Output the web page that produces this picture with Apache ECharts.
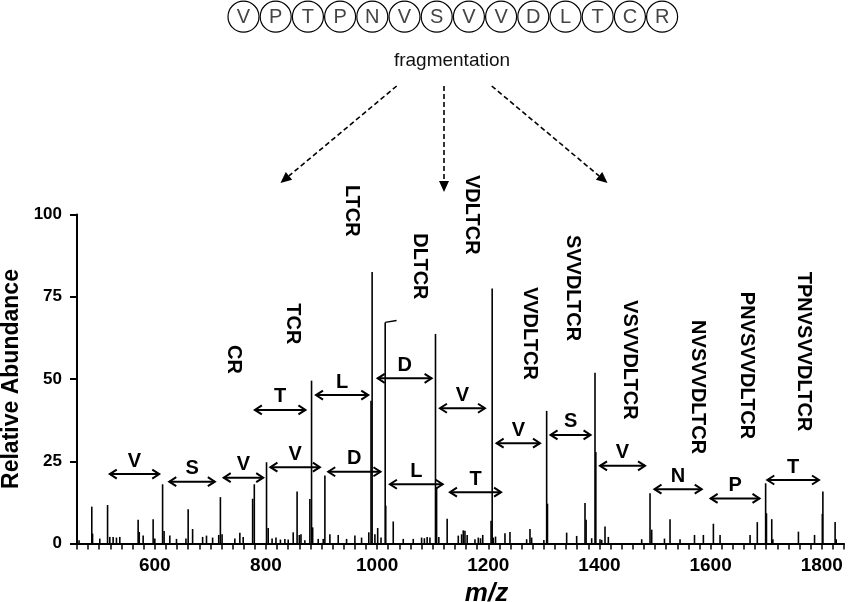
<!DOCTYPE html>
<html>
<head>
<meta charset="utf-8">
<script src="https://cdn.jsdelivr.net/npm/echarts@6/dist/echarts.min.js"></script>
<style>
html,body{margin:0;padding:0;background:#fff;}
#chart{width:860px;height:602px;}
</style>
</head>
<body>
<div id="chart"></div>
<script>
// ---------- data ----------
const peakMz = [463.7,486.6,488,501,515,519,525,531,537,570,572,579,597,600,614,616.7,627,639,656,660,668,686,693,704,715,718,721,744,753,759,776,779,801,804,811,818,826,834,840,849,856,860,863,870,879,882,884,894,903,906,915,930,945,960,972,985,989,991,996,1001,1007,1014.5,1015.5,1029,1047,1065,1080,1085,1090,1095,1105,1107,1111,1126,1146,1152,1155,1158,1162,1176,1182,1186,1190,1205,1207,1209,1213,1230,1239,1269,1275,1278,1300,1305,1306.5,1341,1359,1374,1376,1386,1392,1393.5,1401,1404,1410,1416,1476,1491,1494,1517,1527,1545,1571,1587,1605,1617,1671,1684,1699,1700.5,1710,1712,1758,1787,1801,1802,1824,1826];
const peakInt = [1,11.2,3,1.5,11.7,2,2,1.8,2,7.2,3.5,2.4,7.4,1.5,18,3.8,2.4,1.4,1.5,10.4,4.4,2,2.4,1.8,2.6,14.1,2.8,1.5,3.3,2,13.6,18,24.7,4.7,1.5,1.8,1.2,1.4,1.2,3.4,15.8,2.6,2.8,1,13.5,49.5,4.9,1.4,1.4,20.7,2.8,2.6,1.4,2.4,1.8,3.4,43.4,82.5,2.8,4.7,1.8,67.2,11.5,6.7,1.4,1.4,1.8,1.6,2,1.8,63.7,17,2,7.5,2.4,2.8,4,3.9,2.6,1.3,1.8,1.6,2.6,6.9,77.5,1.8,2.1,3.1,3.5,1.3,4.4,1.8,1.1,40.3,12.1,3.3,2.3,12.3,7.2,1.6,51.9,27.8,1.3,1.1,5.2,2,1.3,15.3,4.2,1.5,7.4,1.3,2.6,2.6,6,2.6,2.6,6.5,18.3,9.2,7.4,1.3,3.6,2.6,9,15.8,6.5,1.3];

// small hook drawn at the top of the DLTCR peak
const hookMz = [1014.5, 1035];
const hookInt = [67.2, 67.8];

// fragment (y-ion) labels: m/z and intensity of the top of the rotated text
const fragLabels = ['CR','TCR','LTCR','DLTCR','VDLTCR','VVDLTCR','SVVDLTCR','VSVVDLTCR','NVSVVDLTCR','PNVSVVDLTCR','TPNVSVVDLTCR'];
const fragMz = [741, 847.5, 954, 1077, 1170, 1275, 1351, 1454, 1577, 1664, 1767];
const fragTop = [60.3, 73, 109, 94.3, 112, 78, 93.8, 74, 67.9, 76.5, 82.6];

// double-headed arrows marking residue mass differences
const arrowLetter = ['V','S','V','T','V','L','D','D','L','V','T','V','S','V','N','P','T'];
const arrowFrom = [519,626,724,780,808,890,912,1001,1023,1113,1131,1215,1312,1401,1499,1600,1702];
const arrowTo   = [608,708,795,871,897,984,1006,1098,1118,1194,1223,1293,1384,1482,1584,1688,1795];
const arrowY    = [21.1,18.8,20,40.6,23.2,45.1,21.8,50.2,18,41.1,15.6,30.5,33,23.6,16.5,13.7,19.3];

// peptide sequence
const sequence = ['V','P','T','P','N','V','S','V','V','D','L','T','C','R'];

// axis ticks
const xTickLabels = [600, 800, 1000, 1200, 1400, 1600, 1800];
const yTicks = [0, 25, 50, 75, 100];

// ---------- chart ----------
const FONT = 'Arial, "Liberation Sans", Helvetica, sans-serif';
const chart = echarts.init(document.getElementById('chart'), null, {renderer: 'canvas'});

const peakData = peakMz.map((m, i) => [m, peakInt[i]]);
const fragData = fragMz.map((m, i) => [m, fragTop[i]]);
const arrowData = arrowFrom.map((f, i) => [f, arrowTo[i], arrowY[i]]);

// top decoration: sequence circles, caption, dashed arrows
const graphics = [];
const cStart = 243.5, cStep = 32.2, cY = 16.7, cR = 15.5;
sequence.forEach((aa, i) => {
  const cx = cStart + i * cStep;
  graphics.push({type: 'circle', shape: {cx: cx, cy: cY, r: cR}, style: {fill: '#fff', stroke: '#000', lineWidth: 1.2}, z: 10});
  graphics.push({type: 'text', x: cx, y: cY + 1, style: {text: aa, font: '20px ' + FONT, fill: '#444', textAlign: 'center', textVerticalAlign: 'middle'}, z: 11});
});
graphics.push({type: 'text', x: 452, y: 61, style: {text: 'fragmentation', font: '19px ' + FONT, fill: '#111', textAlign: 'center', textVerticalAlign: 'middle'}, z: 11});

function dashedArrow(sx, sy, ex, ey) {
  const dx = ex - sx, dy = ey - sy, L = Math.hypot(dx, dy);
  const ux = dx / L, uy = dy / L, hl = 11, hw = 5;
  const bx = ex - ux * hl, by = ey - uy * hl;
  graphics.push({type: 'line', shape: {x1: sx, y1: sy, x2: bx, y2: by}, style: {stroke: '#000', lineWidth: 1.6, lineDash: [5, 3]}, z: 10});
  graphics.push({type: 'polygon', shape: {points: [[ex, ey], [bx - uy * hw, by + ux * hw], [bx + uy * hw, by - ux * hw]]}, style: {fill: '#000'}, z: 10});
}
dashedArrow(396.7, 86, 280.5, 183);
dashedArrow(444, 86, 444, 192);
dashedArrow(491.7, 86, 607.5, 183);

const option = {
  backgroundColor: '#fff',
  animation: false,
  grid: {left: 77, right: 16, top: 214.5, bottom: 58.5, containLabel: false, outerBoundsMode: 'none'},
  xAxis: {
    type: 'value', min: 460, max: 1840, interval: 20,
    name: 'm/z', nameLocation: 'middle', nameGap: 31,
    nameTextStyle: {fontFamily: FONT, fontSize: 26, fontWeight: 'bold', fontStyle: 'italic', color: '#000', padding: [0, 0, 0, 52]},
    axisLine: {show: true, lineStyle: {color: '#000', width: 2}},
    axisTick: {show: true, length: 6, lineStyle: {color: '#000', width: 1.5}},
    axisLabel: {
      margin: 13, fontFamily: FONT, fontSize: 19, fontWeight: 'bold', color: '#000',
      formatter: v => (xTickLabels.indexOf(v) >= 0 ? String(v) : '')
    },
    splitLine: {show: false}
  },
  yAxis: {
    type: 'value', min: 0, max: 100, interval: 25,
    name: 'Relative Abundance', nameLocation: 'middle', nameGap: 43,
    nameTextStyle: {fontFamily: FONT, fontSize: 23, fontWeight: 'bold', color: '#000'},
    axisLine: {show: true, lineStyle: {color: '#000', width: 2}},
    axisTick: {show: true, length: 7, lineStyle: {color: '#000', width: 2}},
    axisLabel: {
      margin: 15, fontFamily: FONT, fontSize: 17, fontWeight: 'bold', color: '#000',
      formatter: v => (yTicks.indexOf(v) >= 0 ? String(v) : '')
    },
    splitLine: {show: false}
  },
  graphic: graphics,
  series: [
    {
      type: 'custom', name: 'peaks', clip: false, data: peakData,
      renderItem: (params, api) => {
        const top = api.coord([api.value(0), api.value(1)]);
        const base = api.coord([api.value(0), 0]);
        return {type: 'line', shape: {x1: top[0], y1: top[1], x2: base[0], y2: base[1]}, style: {stroke: '#000', lineWidth: 1.6}};
      }
    },
    {
      type: 'line', name: 'hook', data: hookMz.map((m, i) => [m, hookInt[i]]),
      symbol: 'none', lineStyle: {color: '#000', width: 1.4}
    },
    {
      type: 'custom', name: 'arrows', clip: false, data: arrowData,
      renderItem: (params, api) => {
        const p1 = api.coord([api.value(0), api.value(2)]);
        const p2 = api.coord([api.value(1), api.value(2)]);
        const hl = 7, hw = 4.5, lw = 2;
        return {type: 'group', children: [
          {type: 'line', shape: {x1: p1[0], y1: p1[1], x2: p2[0], y2: p2[1]}, style: {stroke: '#000', lineWidth: lw}},
          {type: 'polyline', shape: {points: [[p1[0] + hl, p1[1] - hw], [p1[0], p1[1]], [p1[0] + hl, p1[1] + hw]]}, style: {stroke: '#000', fill: null, lineWidth: lw}},
          {type: 'polyline', shape: {points: [[p2[0] - hl, p2[1] - hw], [p2[0], p2[1]], [p2[0] - hl, p2[1] + hw]]}, style: {stroke: '#000', fill: null, lineWidth: lw}},
          {type: 'text', x: (p1[0] + p2[0]) / 2, y: p1[1] - 3, style: {text: arrowLetter[params.dataIndex], font: 'bold 20px ' + FONT, fill: '#000', textAlign: 'center', textVerticalAlign: 'bottom'}}
        ]};
      }
    },
    {
      type: 'custom', name: 'fragments', clip: false, data: fragData,
      renderItem: (params, api) => {
        const p = api.coord([api.value(0), api.value(1)]);
        return {type: 'text', x: p[0], y: p[1], rotation: -Math.PI / 2,
          style: {text: fragLabels[params.dataIndex], font: 'bold 20px ' + FONT, fill: '#000', textAlign: 'left', textVerticalAlign: 'middle'}};
      }
    }
  ]
};
chart.setOption(option);
</script>
</body>
</html>
